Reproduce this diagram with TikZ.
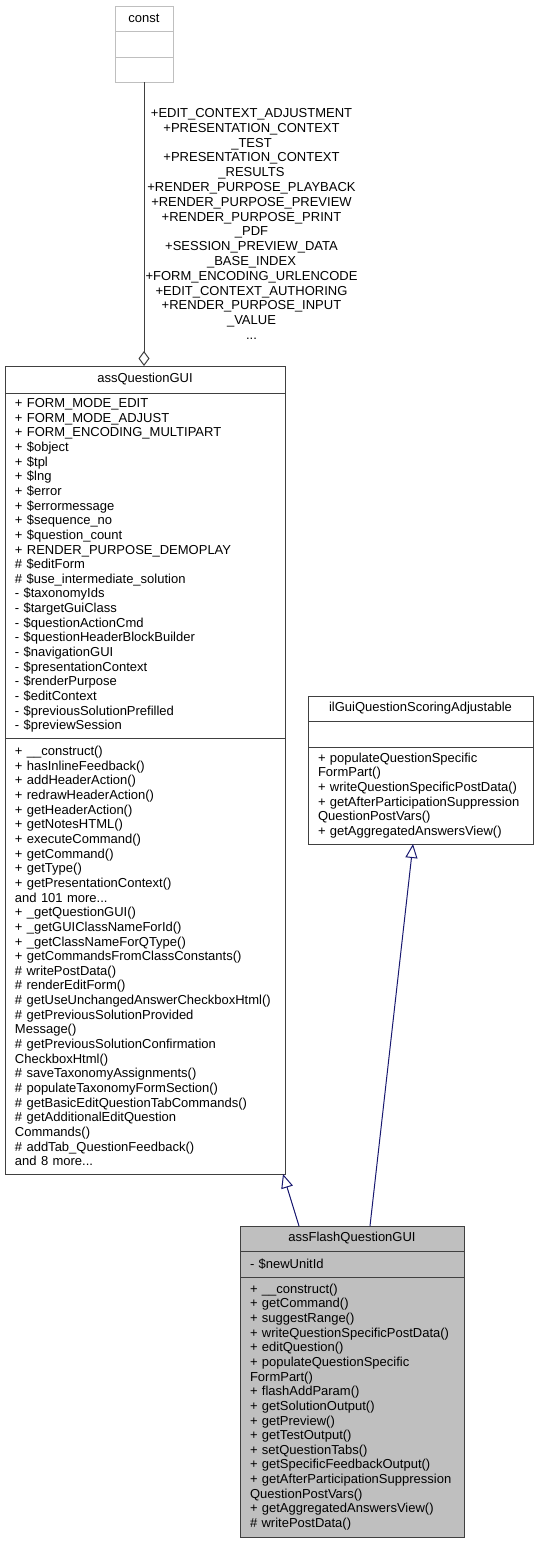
\documentclass[tikz,border=0pt]{standalone}
\usepackage{fontspec}
\setmainfont{Liberation Sans}
\usetikzlibrary{arrows.meta, positioning}
\definecolor{borde}{HTML}{404040}
\definecolor{bordeclaro}{HTML}{BFBFBF}
\definecolor{relleno}{HTML}{BFBFBF}
\definecolor{azulnoche}{HTML}{191970}
\newcommand{\clfont}{\fontsize{13}{14.65}\selectfont}
\tikzset{
  cab/.style={rectangle, draw=#1, fill=white, line width=1pt, outer sep=0pt,
              inner xsep=10pt, inner ysep=0pt, align=center, font=\clfont},
  cab/.default=borde,
  sec/.style={rectangle, draw=#1, fill=white, line width=1pt, outer sep=0pt,
              inner xsep=10pt, inner ysep=0pt, align=left, font=\clfont},
  sec/.default=borde,
  etiq/.style={font=\fontsize{13}{14.8}\selectfont, align=center, inner sep=1pt},
  agre/.style={draw=borde, line width=1pt, -{Diamond[fill=white, length=15pt, width=11pt]}},
  hered/.style={draw=azulnoche, line width=1pt, -{Triangle[fill=white, length=14pt, width=12pt]}}
}
\begin{document}
\begin{tikzpicture}[x=1pt, y=-1pt]
  \useasboundingbox (0,0) rectangle (539,1543);
  % const
  \node (ct) [cab=bordeclaro, text width=38pt, minimum height=25pt, anchor=north west] at (115,6) {const};
  \node (ca) [sec=bordeclaro, text width=38pt, minimum height=26pt, below=0pt of ct] {};
  \node (cm) [sec=bordeclaro, text width=38pt, minimum height=25pt, below=0pt of ca] {};
  % assQuestionGUI
  \node (at) [cab, text width=260pt, minimum height=27pt, anchor=north west] at (5,366) {assQuestionGUI};
  \node (aa) [sec, text width=260pt, minimum height=345pt, below=0pt of at] {+ FORM\_MODE\_EDIT\\ + FORM\_MODE\_ADJUST\\ + FORM\_ENCODING\_MULTIPART\\ + \$object\\ + \$tpl\\ + \$lng\\ + \$error\\ + \$errormessage\\ + \$sequence\_no\\ + \$question\_count\\ + RENDER\_PURPOSE\_DEMOPLAY\\ \# \$editForm\\ \# \$use\_intermediate\_solution\\ - \$taxonomyIds\\ - \$targetGuiClass\\ - \$questionActionCmd\\ - \$questionHeaderBlockBuilder\\ - \$navigationGUI\\ - \$presentationContext\\ - \$renderPurpose\\ - \$editContext\\ - \$previousSolutionPrefilled\\ - \$previewSession};
  \node (am) [sec, text width=260pt, minimum height=436pt, below=0pt of aa] {+ \_\_construct()\\ + hasInlineFeedback()\\ + addHeaderAction()\\ + redrawHeaderAction()\\ + getHeaderAction()\\ + getNotesHTML()\\ + executeCommand()\\ + getCommand()\\ + getType()\\ + getPresentationContext()\\ and 101 more...\\ + \_getQuestionGUI()\\ + \_getGUIClassNameForId()\\ + \_getClassNameForQType()\\ + getCommandsFromClassConstants()\\ \# writePostData()\\ \# renderEditForm()\\ \# getUseUnchangedAnswerCheckboxHtml()\\ \# getPreviousSolutionProvided\\ Message()\\ \# getPreviousSolutionConfirmation\\ CheckboxHtml()\\ \# saveTaxonomyAssignments()\\ \# populateTaxonomyFormSection()\\ \# getBasicEditQuestionTabCommands()\\ \# getAdditionalEditQuestion\\ Commands()\\ \# addTab\_QuestionFeedback()\\ and 8 more...};
  % ilGuiQuestionScoringAdjustable
  \node (st) [cab, text width=205pt, minimum height=25pt, anchor=north west] at (308,696) {ilGuiQuestionScoringAdjustable};
  \node (sa) [sec, text width=205pt, minimum height=26pt, below=0pt of st] {};
  \node (sm) [sec, text width=205pt, minimum height=97pt, below=0pt of sa] {+ populateQuestionSpecific\\ FormPart()\\ + writeQuestionSpecificPostData()\\ + getAfterParticipationSuppression\\ QuestionPostVars()\\ + getAggregatedAnswersView()};
  % assFlashQuestionGUI
  \node (ft) [cab, fill=relleno, text width=204pt, minimum height=25pt, anchor=north west] at (240,1226) {assFlashQuestionGUI};
  \node (fa) [sec, fill=relleno, text width=204pt, minimum height=26pt, below=0pt of ft] {- \$newUnitId};
  \node (fm) [sec, fill=relleno, text width=204pt, minimum height=260pt, below=0pt of fa] {+ \_\_construct()\\ + getCommand()\\ + suggestRange()\\ + writeQuestionSpecificPostData()\\ + editQuestion()\\ + populateQuestionSpecific\\ FormPart()\\ + flashAddParam()\\ + getSolutionOutput()\\ + getPreview()\\ + getTestOutput()\\ + setQuestionTabs()\\ + getSpecificFeedbackOutput()\\ + getAfterParticipationSuppression\\ QuestionPostVars()\\ + getAggregatedAnswersView()\\ \# writePostData()};
  % relaciones
  \draw [agre] (cm.south) -- (cm.south |- at.north)
    node [etiq, midway, right] {+EDIT\_CONTEXT\_ADJUSTMENT\\ +PRESENTATION\_CONTEXT\\ \_TEST\\ +PRESENTATION\_CONTEXT\\ \_RESULTS\\ +RENDER\_PURPOSE\_PLAYBACK\\ +RENDER\_PURPOSE\_PREVIEW\\ +RENDER\_PURPOSE\_PRINT\\ \_PDF\\ +SESSION\_PREVIEW\_DATA\\ \_BASE\_INDEX\\ +FORM\_ENCODING\_URLENCODE\\ +EDIT\_CONTEXT\_AUTHORING\\ +RENDER\_PURPOSE\_INPUT\\ \_VALUE\\ ...};
  \draw [hered] ([xshift=59pt]ft.north west) -- ([xshift=278pt]am.south west);
  \draw [hered] ([xshift=130pt]ft.north west) -- ([xshift=105pt]sm.south west);
\end{tikzpicture}
\end{document}
